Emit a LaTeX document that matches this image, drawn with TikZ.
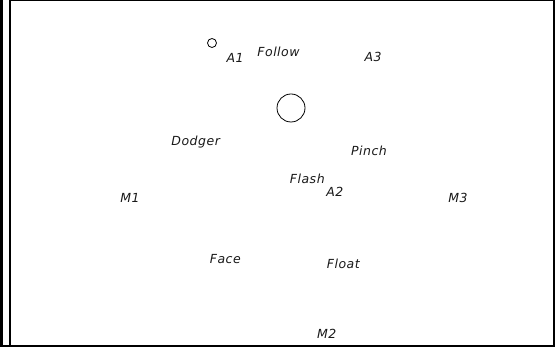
\documentclass[tikz,border=0pt]{standalone}
\usepackage{fontspec}
\newfontfamily\tagfont[LetterSpace=4]{DejaVu Sans}

\begin{document}
\begin{tikzpicture}[x=1pt,y=-1pt]
  \tikzstyle{tag}=[font=\tagfont\itshape\fontsize{12.5}{14}\selectfont,text=black!90,anchor=base,inner sep=0pt]
  \tikzstyle{spot}=[draw,circle,thick,inner sep=0pt]
  \useasboundingbox (0,0) rectangle (560,347);
  % frame
  \draw[line width=2.5pt] (1.25,0) -- (1.25,347);
  \draw[line width=2.5pt] (9.75,0) -- (9.75,347);
  \draw[line width=1.5pt] (9,0.75) -- (555,0.75);
  \draw[line width=2.5pt] (553.75,0) -- (553.75,347);
  \draw[line width=1.5pt] (0,346.25) -- (555,346.25);
  % circles
  \node[spot,minimum size=9pt] (s1) at (212,43) {};
  \node[spot,minimum size=28pt] (s2) at (291,108) {};
  % labels
  \node[tag] (a1) at (235,62.7) {A1};
  \node[tag] (follow) at (278.5,56.7) {Follow};
  \node[tag] (a3) at (373,61.7) {A3};
  \node[tag] (dodger) at (195.7,145.5) {Dodger};
  \node[tag] (pinch) at (369,155.3) {Pinch};
  \node[tag] (flash) at (307.3,183.3) {Flash};
  \node[tag] (a2) at (334.8,196.7) {A2};
  \node[tag] (m1) at (130,202.5) {M1};
  \node[tag] (m3) at (458,202.5) {M3};
  \node[tag] (face) at (225.3,263.3) {Face};
  \node[tag] (float) at (343.3,268.3) {Float};
  \node[tag] (m2) at (326.7,338.3) {M2};
\end{tikzpicture}
\end{document}
